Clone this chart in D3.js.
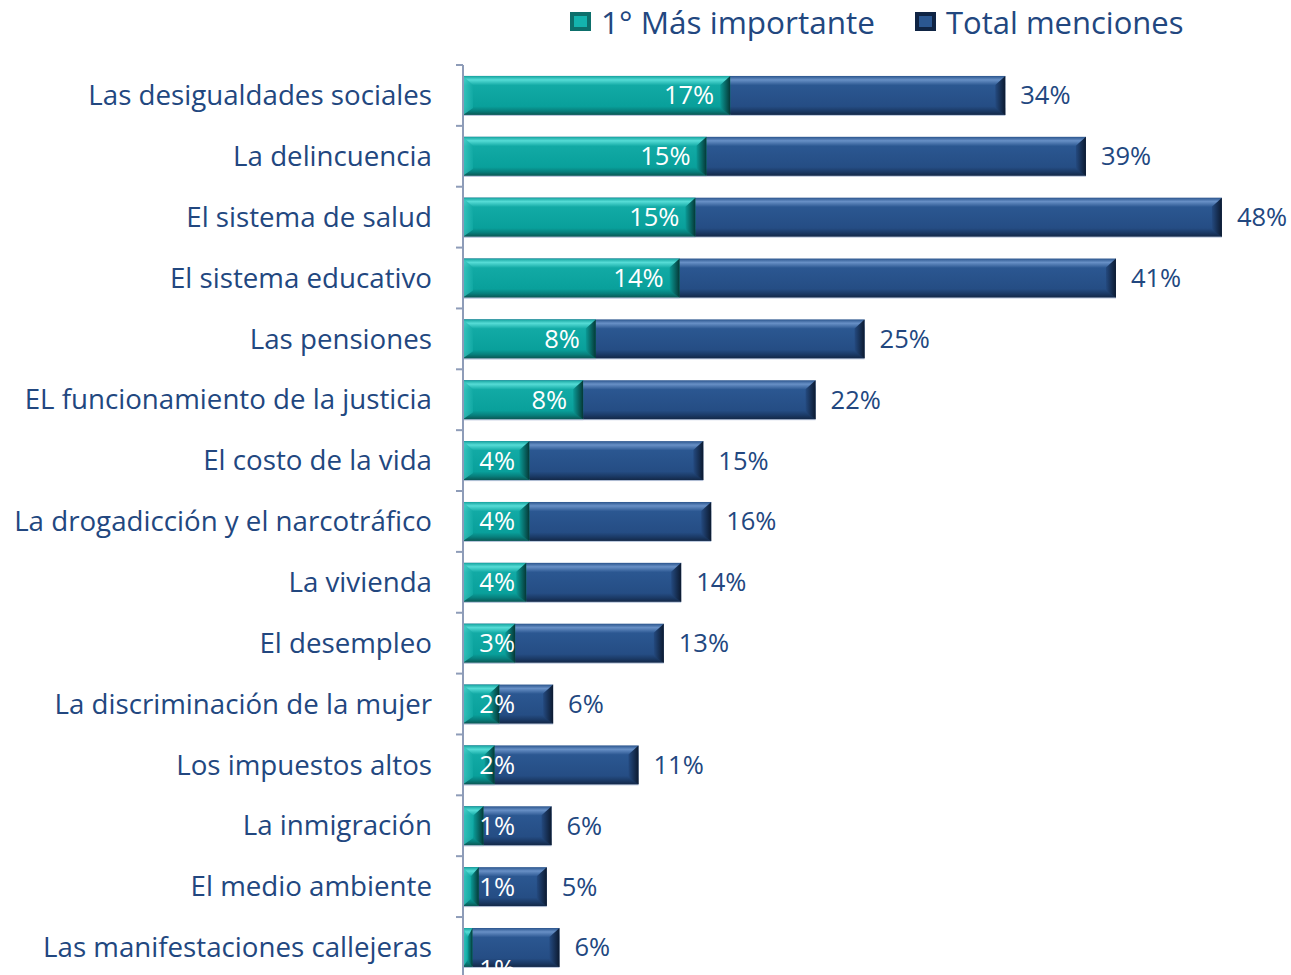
<!DOCTYPE html>
<html>
<head>
<meta charset="utf-8">
<script src="https://cdn.jsdelivr.net/npm/d3@7"></script>
<style>
  body { margin: 0; background: #fff; }
  svg { display: block; font-family: "Open Sans", Lato, sans-serif; }
</style>
</head>
<body>
<div id="chart"></div>
<script>
// data
const categories = [
  'Las desigualdades sociales', 'La delincuencia', 'El sistema de salud',
  'El sistema educativo', 'Las pensiones', 'EL funcionamiento de la justicia',
  'El costo de la vida', 'La drogadicción y el narcotráfico', 'La vivienda',
  'El desempleo', 'La discriminación de la mujer', 'Los impuestos altos',
  'La inmigración', 'El medio ambiente', 'Las manifestaciones callejeras'
];
const firstImportant = [16.9, 15.4, 14.7, 13.7, 8.4, 7.6, 4.2, 4.2, 4.0, 3.3, 2.3, 2.0, 1.3, 1.0, 0.6];
const totalMentions = [34.3, 39.4, 48.0, 41.3, 25.4, 22.3, 15.2, 15.7, 13.8, 12.7, 5.7, 11.1, 5.6, 5.3, 6.1];
const seriesNames = ['1° Más importante', 'Total menciones'];

const width = 1291, height = 975;
const x0 = 463;
const textColor = '#22477f';

const svg = d3.select('#chart').append('svg')
  .attr('width', width)
  .attr('height', height);

const x = d3.scaleLinear().domain([0, 50]).range([x0, x0 + 50 * 15.81]);
const y = d3.scaleBand().domain(categories).range([65, 65 + 60.86 * categories.length])
  .paddingInner(0.36).paddingOuter(0.18);

const defs = svg.append('defs');
function vGrad(id, stops) {
  const g = defs.append('linearGradient').attr('id', id)
    .attr('x1', 0).attr('y1', 0).attr('x2', 0).attr('y2', 1);
  stops.forEach(s => g.append('stop').attr('offset', s[0]).attr('stop-color', s[1]));
}
function hGrad(id, stops) {
  const g = defs.append('linearGradient').attr('id', id)
    .attr('x1', 0).attr('y1', 0).attr('x2', 1).attr('y2', 0);
  stops.forEach(s => g.append('stop').attr('offset', s[0]).attr('stop-color', s[1]));
}
vGrad('tealV', [[0, '#14a29e'], [0.1, '#56dcd6'], [0.24, '#12aaa5'], [0.78, '#09a09b'], [0.9, '#077f7c'], [1, '#0a5754']]);
vGrad('navyV', [[0, '#2a548c'], [0.1, '#6890c6'], [0.24, '#2b5791'], [0.78, '#254d84'], [0.9, '#1b3a66'], [1, '#132848']]);
hGrad('tealEnd', [[0, '#0a9a96'], [1, '#053836']]);
hGrad('navyEnd', [[0, '#244a80'], [1, '#0c1a30']]);
hGrad('tealStart', [[0, '#3fc9c3'], [1, '#12aaa5']]);

const bh = y.bandwidth();

function bevelBar(g, xEnd, yTop, fillV, fillEnd, withStart) {
  const w = xEnd - x0;
  g.append('rect')
    .attr('x', x0).attr('y', yTop + bh - 1).attr('width', w).attr('height', 2)
    .attr('fill', '#b9c6dc');
  g.append('rect')
    .attr('x', x0).attr('y', yTop).attr('width', w).attr('height', bh)
    .attr('fill', `url(#${fillV})`);
  const b = Math.min(10, w / 2);
  if (withStart) {
    g.append('path')
      .attr('d', `M${x0},${yTop}L${x0 + b},${yTop + 9}L${x0 + b},${yTop + bh - 7}L${x0},${yTop + bh}Z`)
      .attr('fill', 'url(#tealStart)').attr('opacity', 0.8);
  }
  g.append('path')
    .attr('d', `M${xEnd},${yTop}L${xEnd - b},${yTop + 9}L${xEnd - b},${yTop + bh - 7}L${xEnd},${yTop + bh}Z`)
    .attr('fill', `url(#${fillEnd})`);
}

// total bars behind, first-choice bars in front
categories.forEach((c, i) => {
  const g = svg.append('g');
  bevelBar(g, x(totalMentions[i]), y(c), 'navyV', 'navyEnd', false);
  bevelBar(g, x(firstImportant[i]), y(c), 'tealV', 'tealEnd', true);
});

// axis
const axisG = svg.append('g');
axisG.append('line')
  .attr('x1', x0).attr('x2', x0).attr('y1', 65).attr('y2', height)
  .attr('stroke', '#8e9cb8').attr('stroke-width', 2);
axisG.selectAll('line.tick')
  .data(d3.range(categories.length + 1))
  .join('line')
  .attr('class', 'tick')
  .attr('x1', x0 - 7).attr('x2', x0)
  .attr('y1', i => 65 + 60.86 * i).attr('y2', i => 65 + 60.86 * i)
  .attr('stroke', '#8e9cb8').attr('stroke-width', 2);

// category labels
svg.append('g').selectAll('text')
  .data(categories)
  .join('text')
  .attr('x', 432)
  .attr('y', d => y(d) + bh / 2)
  .attr('dy', '0.35em')
  .attr('text-anchor', 'end')
  .attr('font-size', 27.7)
  .attr('fill', textColor)
  .text(d => d);

const fmt = v => Math.round(v) + '%';

// labels inside first-choice bars
svg.append('g').selectAll('text')
  .data(categories)
  .join('text')
  .attr('x', (d, i) => Math.max(x(firstImportant[i]) - 16, 515))
  .attr('y', (d, i) => y(d) + bh / 2 + (firstImportant[i] < 1 ? 22 : 0))
  .attr('dy', '0.35em')
  .attr('text-anchor', 'end')
  .attr('font-size', 25.5)
  .attr('fill', '#fff')
  .text((d, i) => fmt(firstImportant[i]));

// labels after total bars
svg.append('g').selectAll('text')
  .data(categories)
  .join('text')
  .attr('x', (d, i) => x(totalMentions[i]) + 15)
  .attr('y', d => y(d) + bh / 2)
  .attr('dy', '0.35em')
  .attr('font-size', 25.5)
  .attr('fill', textColor)
  .text((d, i) => fmt(totalMentions[i]));

// legend
const legend = svg.append('g');
const legendX = [570, 915];
const legendFill = [['#0d6f6b', '#14b3ad'], ['#0f2444', '#2b5791']];
const legendSize = [31.5, 31];
seriesNames.forEach((name, i) => {
  const lg = legend.append('g').attr('transform', `translate(${legendX[i]},12)`);
  lg.append('rect').attr('width', 21).attr('height', 19).attr('fill', legendFill[i][0]);
  lg.append('rect').attr('x', 4).attr('y', 4).attr('width', 13).attr('height', 11).attr('fill', legendFill[i][1]);
  lg.append('text')
    .attr('x', 31).attr('y', 11).attr('dy', '0.35em')
    .attr('font-size', legendSize[i])
    .attr('fill', textColor)
    .text(name);
});
</script>
</body>
</html>
